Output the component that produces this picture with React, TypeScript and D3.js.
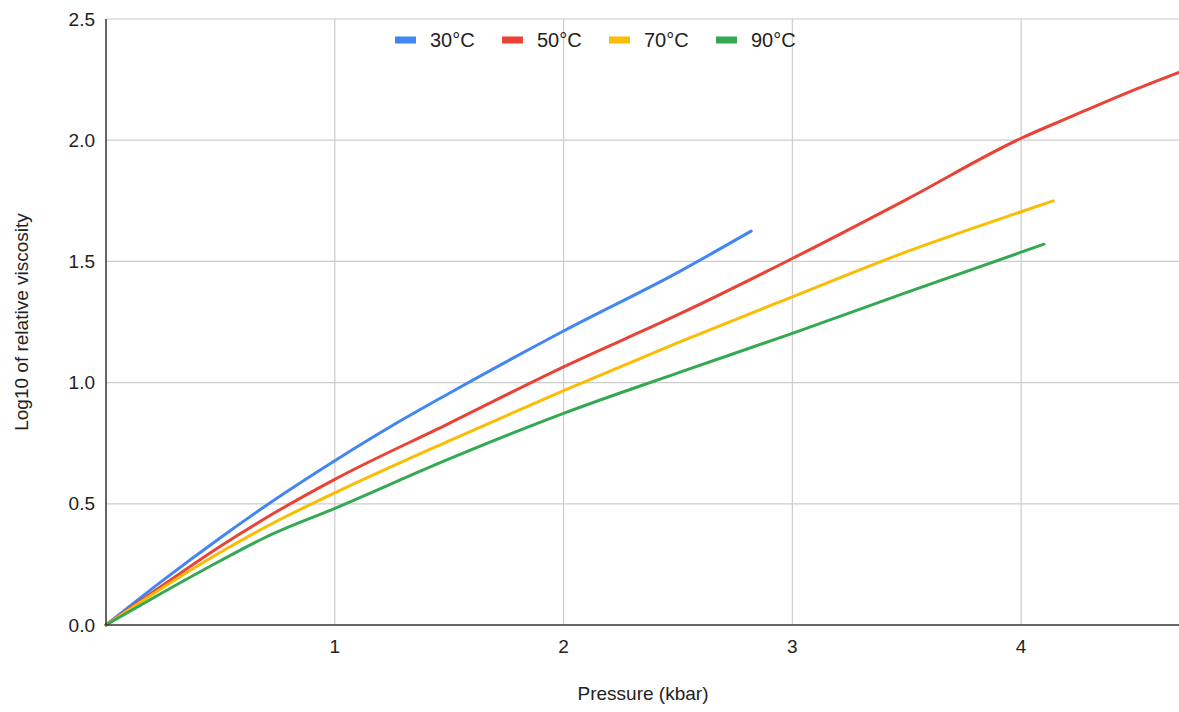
import React, { useEffect, useRef } from "react";
import * as d3 from "d3";

// pressure (kbar) / log10 relative viscosity
const series = ["30°C", "50°C", "70°C", "90°C"];
const colors = ["#4285F4", "#EA4335", "#FBBC04", "#34A853"];

const p30 = [0, 0.25, 0.5, 0.75, 1, 1.25, 1.5, 2, 2.5, 2.82];
const v30 = [0, 0.185, 0.36, 0.525, 0.678, 0.822, 0.956, 1.213, 1.455, 1.625];

const p50 = [0, 0.25, 0.5, 0.75, 1, 1.5, 2, 2.5, 3, 3.5, 4, 4.2, 4.5, 4.69];
const v50 = [0, 0.165, 0.325, 0.47, 0.601, 0.832, 1.065, 1.28, 1.512, 1.756, 2.008, 2.09, 2.21, 2.28];

const p70 = [0, 0.25, 0.5, 0.75, 1, 1.5, 2, 2.5, 3, 3.5, 4, 4.14];
const v70 = [0, 0.155, 0.3, 0.43, 0.545, 0.76, 0.967, 1.165, 1.354, 1.54, 1.705, 1.75];

const p90 = [0, 0.25, 0.5, 0.7, 1, 1.5, 2, 2.5, 3, 3.5, 4, 4.1];
const v90 = [0, 0.135, 0.265, 0.363, 0.481, 0.685, 0.873, 1.04, 1.203, 1.372, 1.538, 1.571];

const xTicks = [1, 2, 3, 4];
const yTicks = [0, 0.5, 1, 1.5, 2, 2.5];

const W = 1179;
const H = 712;
const margin = { top: 19, right: 0, bottom: 87, left: 106 };
const font = "'Liberation Sans', Arial, sans-serif";

const App = () => {
  const canvas = useRef<SVGSVGElement>(null);

  useEffect(() => {
    const svg = d3.select(canvas.current);
    svg.selectAll("*").remove();

    const x = d3
      .scaleLinear()
      .domain([0, d3.max(p50) as number])
      .range([margin.left, W - margin.right]);
    const y = d3
      .scaleLinear()
      .domain([0, 2.5])
      .range([H - margin.bottom, margin.top]);

    // grid
    svg
      .append("g")
      .selectAll("line")
      .data(yTicks.slice(1))
      .enter()
      .append("line")
      .attr("x1", margin.left)
      .attr("x2", W - margin.right)
      .attr("y1", (d) => y(d))
      .attr("y2", (d) => y(d))
      .attr("stroke", "#cccccc")
      .attr("stroke-width", 1.2);
    svg
      .append("g")
      .selectAll("line")
      .data(xTicks)
      .enter()
      .append("line")
      .attr("x1", (d) => x(d))
      .attr("x2", (d) => x(d))
      .attr("y1", margin.top)
      .attr("y2", H - margin.bottom)
      .attr("stroke", "#cccccc")
      .attr("stroke-width", 1.2);

    // tick labels
    svg
      .append("g")
      .selectAll("text")
      .data(yTicks)
      .enter()
      .append("text")
      .attr("x", margin.left - 11)
      .attr("y", (d) => y(d))
      .attr("dy", "0.35em")
      .attr("text-anchor", "end")
      .attr("font-family", font)
      .attr("font-size", 19)
      .attr("fill", "#222")
      .text((d) => d3.format(".1f")(d));
    svg
      .append("g")
      .selectAll("text")
      .data(xTicks)
      .enter()
      .append("text")
      .attr("x", (d) => x(d))
      .attr("y", H - margin.bottom + 28)
      .attr("text-anchor", "middle")
      .attr("font-family", font)
      .attr("font-size", 19)
      .attr("fill", "#222")
      .text((d) => String(d));

    // lines
    const data = [
      d3.zip(p30, v30),
      d3.zip(p50, v50),
      d3.zip(p70, v70),
      d3.zip(p90, v90),
    ];
    const line = d3
      .line<number[]>()
      .x((d) => x(d[0]))
      .y((d) => y(d[1]))
      .curve(d3.curveMonotoneX);
    svg
      .append("g")
      .selectAll("path")
      .data(data)
      .enter()
      .append("path")
      .attr("d", (d) => line(d))
      .attr("fill", "none")
      .attr("stroke", (d, i) => colors[i])
      .attr("stroke-width", 3)
      .attr("stroke-linecap", "round")
      .attr("stroke-linejoin", "round");

    // axes
    svg
      .append("line")
      .attr("x1", margin.left)
      .attr("x2", margin.left)
      .attr("y1", margin.top)
      .attr("y2", H - margin.bottom)
      .attr("stroke", "#333")
      .attr("stroke-width", 1.5);
    svg
      .append("line")
      .attr("x1", margin.left)
      .attr("x2", W)
      .attr("y1", H - margin.bottom)
      .attr("y2", H - margin.bottom)
      .attr("stroke", "#333")
      .attr("stroke-width", 1.5);

    // legend
    const legend = svg
      .append("g")
      .selectAll("g")
      .data(series)
      .enter()
      .append("g")
      .attr("transform", (d, i) => `translate(${395 + i * 107},40)`);
    legend
      .append("rect")
      .attr("x", 0)
      .attr("y", -3.5)
      .attr("width", 21)
      .attr("height", 7)
      .attr("fill", (d, i) => colors[i]);
    legend
      .append("text")
      .attr("x", 35)
      .attr("y", 0)
      .attr("dy", "0.36em")
      .attr("font-family", font)
      .attr("font-size", 20)
      .attr("fill", "#222")
      .text((d) => d);

    // axis titles
    svg
      .append("text")
      .attr("x", 643)
      .attr("y", 700)
      .attr("text-anchor", "middle")
      .attr("font-family", font)
      .attr("font-size", 19)
      .attr("fill", "#222")
      .text("Pressure (kbar)");
    svg
      .append("text")
      .attr("transform", `translate(28,${(margin.top + H - margin.bottom) / 2}) rotate(-90)`)
      .attr("text-anchor", "middle")
      .attr("font-family", font)
      .attr("font-size", 19)
      .attr("fill", "#222")
      .text("Log10 of relative viscosity");
  }, []);

  return (
    <svg
      ref={canvas}
      width={W}
      height={H}
      style={{ position: "absolute", left: 0, top: 0, background: "#fff" }}
    ></svg>
  );
};

export default App;
